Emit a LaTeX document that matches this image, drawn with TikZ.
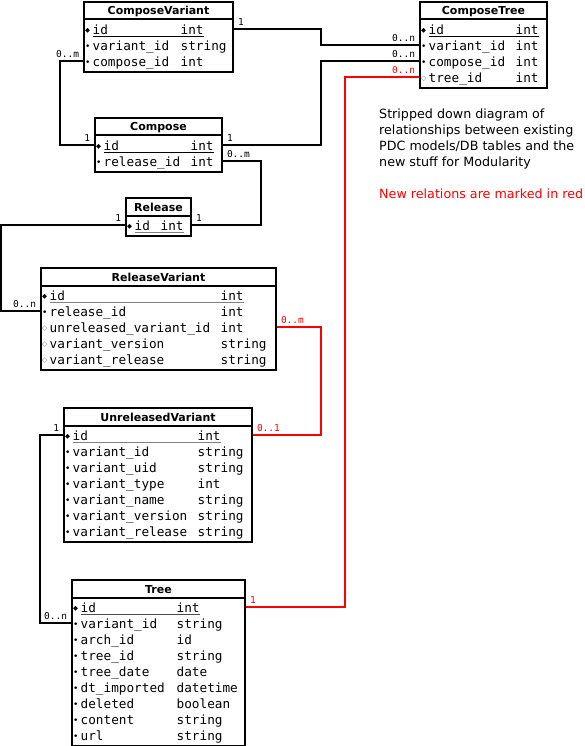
\documentclass[tikz,border=0pt]{standalone}
\usepackage{fontspec}
\setmainfont{DejaVu Sans}
\setmonofont{DejaVu Sans Mono}
\newfontfamily\markfont{DejaVu Sans}
\usepackage{array}

% field markers: key, required, optional
\newcommand{\mkpk}{\raisebox{1.5pt}{\markfont\fontsize{6.5}{7}\selectfont ◆}}
\newcommand{\mkreq}{\raisebox{1pt}{\markfont\fontsize{9}{9}\selectfont •}}
\newcommand{\mkopt}{\raisebox{1.5pt}{\markfont\fontsize{7}{7}\selectfont\color{black!55}◇}}

\newlength{\namecol}
\newsavebox{\idbox}
\newcommand{\fields}[2]{\setlength{\namecol}{#1}%
  \begin{tabular}{@{\hspace{2pt}}p{7.5pt}@{}p{\namecol}@{}l@{}}#2\end{tabular}}
\newcommand{\pkrow}[3]{\mkpk & \multicolumn{2}{@{}l@{}}{\sbox{\idbox}{\makebox[\namecol][l]{#2}#3}%
  \rlap{\color{#1}\rule[-2.6pt]{\wd\idbox}{1.3pt}}\usebox{\idbox}}}

\begin{document}
\begin{tikzpicture}[x=1pt, y=-1pt,
        tbl/.style={draw, line width=2pt, anchor=north west, inner sep=0pt, fill=white},
        ttl/.style={anchor=base, inner sep=0pt, font=\bfseries\fontsize{11}{13}\selectfont},
        fld/.style={anchor=north west, inner sep=0pt, font=\ttfamily\fontsize{12.7}{16}\selectfont},
        rel/.style={line width=2pt},
        newrel/.style={rel, red},
        mult/.style={font=\ttfamily\fontsize{9.5}{10}\selectfont, inner xsep=3pt, inner ysep=2.5pt}
    ]
        \useasboundingbox (0,0) rectangle (585,746);

        % ComposeVariant
        \node[tbl, minimum width=149pt, minimum height=70pt] (cv) at (83,1) {};
        \node[ttl] at ([yshift=-14pt]cv.north) {ComposeVariant};
        \draw[rel] ([yshift=-18.5pt]cv.north west) -- ([yshift=-18.5pt]cv.north east);
        \node[fld] at ([yshift=-22pt]cv.north west) {\fields{88pt}{%
            \pkrow{black}{id}{int}\\
            \mkreq & variant\_id & string\\
            \mkreq & compose\_id & int}};

        % ComposeTree
        \node[tbl, minimum width=127pt, minimum height=86pt] (ct) at (419,1) {};
        \node[ttl] at ([yshift=-14pt]ct.north) {ComposeTree};
        \draw[rel] ([yshift=-18.5pt]ct.north west) -- ([yshift=-18.5pt]ct.north east);
        \node[fld] at ([yshift=-22pt]ct.north west) {\fields{87pt}{%
            \pkrow{black}{id}{int}\\
            \mkreq & variant\_id & int\\
            \mkreq & compose\_id & int\\
            \mkopt & tree\_id & int}};

        % Compose
        \node[tbl, minimum width=127pt, minimum height=54pt] (cmp) at (94,117) {};
        \node[ttl] at ([yshift=-14pt]cmp.north) {Compose};
        \draw[rel] ([yshift=-18.5pt]cmp.north west) -- ([yshift=-18.5pt]cmp.north east);
        \node[fld] at ([yshift=-22pt]cmp.north west) {\fields{87pt}{%
            \pkrow{black}{id}{int}\\
            \mkreq & release\_id & int}};

        % Release
        \node[tbl, minimum width=65pt, minimum height=38pt] (rel) at (125,197) {};
        \node[ttl] at ([yshift=-14pt]rel.north) {Release};
        \draw[rel] ([yshift=-18.5pt]rel.north west) -- ([yshift=-18.5pt]rel.north east);
        \node[fld] at ([yshift=-22pt]rel.north west) {\fields{26pt}{%
            \pkrow{gray}{id}{int}}};

        % ReleaseVariant
        \node[tbl, minimum width=235pt, minimum height=102pt] (rv) at (40,267) {};
        \node[ttl] at ([yshift=-14pt]rv.north) {ReleaseVariant};
        \draw[rel] ([yshift=-18.5pt]rv.north west) -- ([yshift=-18.5pt]rv.north east);
        \node[fld] at ([yshift=-22pt]rv.north west) {\fields{171pt}{%
            \pkrow{gray}{id}{int}\\
            \mkreq & release\_id & int\\
            \mkopt & unreleased\_variant\_id & int\\
            \mkopt & variant\_version & string\\
            \mkopt & variant\_release & string}};

        % UnreleasedVariant
        \node[tbl, minimum width=188pt, minimum height=134pt] (uv) at (63,407) {};
        \node[ttl] at ([yshift=-14pt]uv.north) {UnreleasedVariant};
        \draw[rel] ([yshift=-18.5pt]uv.north west) -- ([yshift=-18.5pt]uv.north east);
        \node[fld] at ([yshift=-22pt]uv.north west) {\fields{125pt}{%
            \pkrow{gray}{id}{int}\\
            \mkreq & variant\_id & string\\
            \mkreq & variant\_uid & string\\
            \mkreq & variant\_type & int\\
            \mkreq & variant\_name & string\\
            \mkreq & variant\_version & string\\
            \mkreq & variant\_release & string}};

        % Tree
        \node[tbl, minimum width=173pt, minimum height=166pt] (tree) at (71,579) {};
        \node[ttl] at ([yshift=-14pt]tree.north) {Tree};
        \draw[rel] ([yshift=-18.5pt]tree.north west) -- ([yshift=-18.5pt]tree.north east);
        \node[fld] at ([yshift=-22pt]tree.north west) {\fields{96pt}{%
            \pkrow{black!70}{id}{int}\\
            \mkreq & variant\_id & string\\
            \mkreq & arch\_id & id\\
            \mkreq & tree\_id & string\\
            \mkreq & tree\_date & date\\
            \mkreq & dt\_imported & datetime\\
            \mkreq & deleted & boolean\\
            \mkreq & content & string\\
            \mkreq & url & string}};

        % Note
        \node[anchor=north west, align=left, inner sep=0pt, font=\fontsize{12.7}{16}\selectfont] (note) at (379,108.8)
            {Stripped down diagram of\\relationships between existing\\PDC models/DB tables and the\\new stuff for Modularity\\[16pt]
             \textcolor{red}{New relations are marked in red}};

        % Existing relations
        \draw[rel] ([yshift=-28pt]cv.north east) node[mult, above right] {1}
            -- ++(87,0) |- ([yshift=-44pt]ct.north west) node[mult, above left] {0..n};
        \draw[rel] ([yshift=-28pt]cmp.north east) node[mult, above right] {1}
            -- ++(98,0) |- ([yshift=-60pt]ct.north west) node[mult, above left] {0..n};
        \draw[rel] ([yshift=-60pt]cv.north west) node[mult, above left] {0..m}
            -- ++(-23,0) |- ([yshift=-28pt]cmp.north west) node[mult, above left] {1};
        \draw[rel] ([yshift=-44pt]cmp.north east) node[mult, above right] {0..m}
            -- ++(38,0) |- ([yshift=-28pt]rel.north east) node[mult, above right] {1};
        \draw[rel] ([yshift=-28pt]rel.north west) node[mult, above left] {1}
            -- ++(-124,0) |- ([yshift=-44pt]rv.north west) node[mult, above left] {0..n};
        \draw[rel] ([yshift=-28pt]uv.north west) node[mult, above left] {1}
            -- ++(-23,0) |- ([yshift=-44pt]tree.north west) node[mult, above left] {0..n};

        % New relations (red)
        \draw[newrel] ([yshift=-60pt]rv.north east) node[mult, above right] {0..m}
            -- ++(44,0) |- ([yshift=-28pt]uv.north east) node[mult, above right] {0..1};
        \draw[newrel] ([yshift=-28pt]tree.north east) node[mult, above right] {1}
            -- ++(99,0) |- ([yshift=-76pt]ct.north west) node[mult, above left] {0..n};
    \end{tikzpicture}
\end{document}
